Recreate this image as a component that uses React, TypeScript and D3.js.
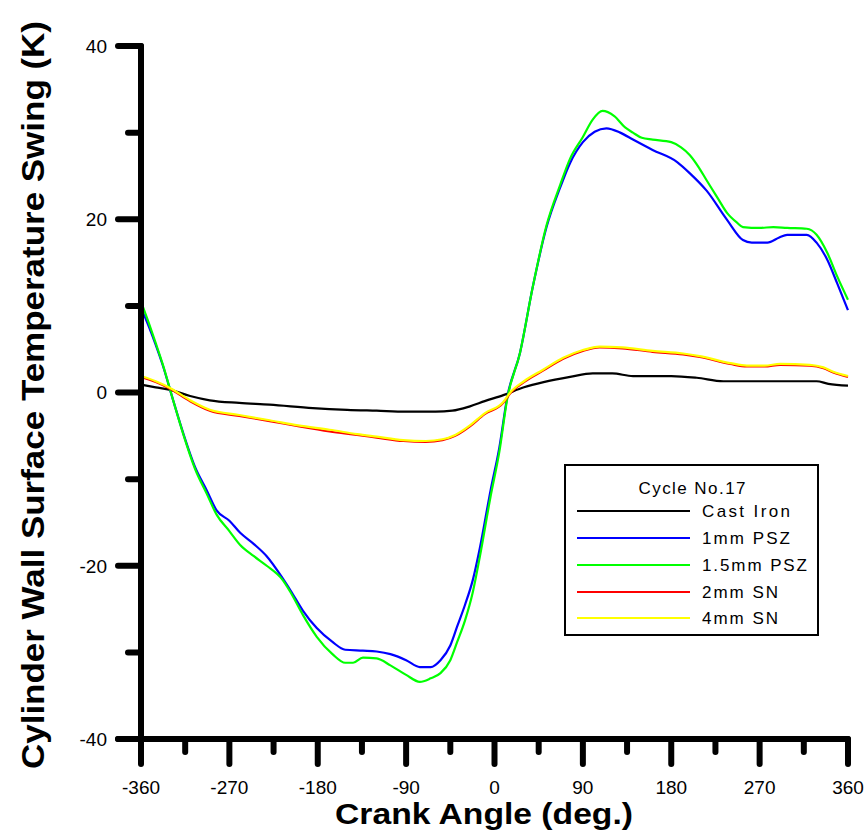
import React from "react";
import * as d3 from "d3";

const xTicks = [-360, -270, -180, -90, 0, 90, 180, 270, 360];
const xMinorTicks = [-315, -225, -135, -45, 45, 135, 225, 315];
const yTicks = [-40, -20, 0, 20, 40];
const yMinorTicks = [-30, -10, 10, 30];

const castIronX = [-360, -345, -330, -310, -290, -260, -229, -185, -150, -120, -90, -60, -43, -25, -10, 9, 30, 50, 77, 100, 120, 141, 180, 206, 233, 270, 300, 328, 340, 360];
const castIronY = [0.9, 0.6, 0.3, -0.4, -0.9, -1.2, -1.4, -1.8, -2.0, -2.1, -2.2, -2.2, -2.1, -1.6, -1.0, -0.3, 0.6, 1.2, 1.8, 2.2, 2.2, 1.9, 1.9, 1.7, 1.3, 1.3, 1.3, 1.3, 1.0, 0.8];

const psz1X = [-360, -352, -345, -338, -327, -317, -305, -293, -283, -270, -259, -245, -232, -216, -208, -195, -181, -165, -152, -134, -120, -106, -90, -76, -65, -55, -45, -38, -30, -22, -15, -4, 5, 13, 26, 39, 53, 67, 77, 90, 102, 114, 128, 141, 161, 186, 199, 216, 237, 253, 262, 278, 290, 298, 318, 328, 339, 349, 360];
const psz1Y = [9.8, 7.6, 5.5, 3.2, -1.0, -4.7, -8.6, -11.3, -13.6, -14.8, -16.2, -17.5, -18.9, -21.4, -22.8, -25.2, -27.2, -28.8, -29.7, -29.8, -29.9, -30.2, -30.9, -31.7, -31.7, -30.9, -29.2, -27.0, -24.5, -21.6, -18.0, -11.3, -6.3, -0.5, 4.6, 12.2, 19.1, 23.7, 26.5, 28.9, 30.1, 30.5, 30.0, 29.2, 28.0, 26.6, 25.3, 23.3, 19.9, 17.6, 17.3, 17.3, 17.9, 18.2, 18.2, 17.3, 15.3, 12.6, 9.5];

const psz15X = [-360, -352, -345, -338, -327, -317, -305, -293, -283, -270, -259, -245, -232, -216, -208, -195, -181, -165, -152, -144, -134, -120, -106, -90, -76, -65, -55, -45, -38, -30, -22, -15, -4, 5, 13, 26, 39, 53, 67, 77, 90, 100, 110, 122, 133, 141, 150, 161, 180, 190, 199, 208, 216, 227, 237, 247, 253, 270, 284, 298, 318, 328, 339, 349, 360];
const psz15Y = [10.5, 8.0, 5.7, 3.3, -1.0, -4.8, -8.8, -11.7, -14.1, -16.0, -17.6, -18.9, -20.0, -21.6, -23.0, -25.7, -28.2, -30.2, -31.2, -31.2, -30.6, -30.7, -31.5, -32.6, -33.4, -33.0, -32.4, -30.9, -28.8, -26.3, -23.0, -19.0, -12.0, -6.8, -0.7, 4.6, 12.2, 19.3, 24.0, 27.0, 29.5, 31.5, 32.5, 31.9, 30.6, 30.0, 29.4, 29.2, 28.9, 28.3, 27.4, 26.0, 24.5, 22.5, 20.7, 19.6, 19.1, 19.0, 19.1, 19.0, 18.9, 18.2, 16.1, 13.4, 10.7];

const sn2X = [-360, -345, -330, -310, -290, -260, -229, -200, -168, -140, -120, -93, -70, -53, -40, -25, -10, 9, 16, 30, 49, 70, 90, 107, 130, 161, 192, 209, 240, 257, 275, 291, 321, 335, 345, 360];
const sn2Y = [1.8, 1.2, 0.4, -1.0, -2.1, -2.7, -3.3, -3.9, -4.5, -4.9, -5.2, -5.6, -5.7, -5.5, -5.0, -3.9, -2.5, -1.2, -0.1, 1.2, 2.5, 3.9, 4.8, 5.2, 5.1, 4.7, 4.4, 4.1, 3.3, 3.0, 3.0, 3.2, 3.1, 2.8, 2.3, 1.8];

const sn4X = [-360, -345, -330, -310, -290, -260, -229, -200, -168, -140, -120, -93, -70, -53, -40, -25, -10, 9, 16, 30, 49, 70, 90, 107, 130, 161, 192, 209, 240, 257, 275, 291, 321, 335, 345, 360];
const sn4Y = [1.9, 1.3, 0.5, -0.9, -2.0, -2.6, -3.2, -3.8, -4.3, -4.8, -5.1, -5.5, -5.6, -5.4, -4.9, -3.8, -2.4, -1.1, 0.0, 1.3, 2.6, 4.0, 4.9, 5.3, 5.2, 4.8, 4.5, 4.2, 3.4, 3.1, 3.1, 3.3, 3.2, 2.9, 2.4, 1.9];

const seriesNames = ["Cast Iron", "1mm PSZ", "1.5mm PSZ", "2mm SN", "4mm SN"];
const seriesColors = ["#000000", "#0000ff", "#00ff00", "#ff0000", "#ffff00"];
const seriesX = [castIronX, psz1X, psz15X, sn2X, sn4X];
const seriesY = [castIronY, psz1Y, psz15Y, sn2Y, sn4Y];
const legendLabelWidths = [88, 88, 105, 76, 76];

export default function App() {
  const x = d3.scaleLinear().domain([-360, 360]).range([141, 848]);
  const y = d3.scaleLinear().domain([-40, 40]).range([739, 46]);
  const line = d3
    .line<[number, number]>()
    .x((d) => x(d[0]))
    .y((d) => y(d[1]))
    .curve(d3.curveMonotoneX);

  const font = "'Liberation Sans', Arial, sans-serif";
  const axisW = 6;

  const legendRows = [511, 538, 565, 592, 618];

  return (
    <svg
      width={866}
      height={832}
      style={{ position: "absolute", left: 0, top: 0, background: "#fff" }}
      fontFamily={font}
    >
      <rect x={0} y={0} width={866} height={832} fill="#fff" />
      {/* data lines */}
      {seriesX.map((xs, i) => {
        const pts: [number, number][] = xs.map((v, j) => [v, seriesY[i][j]]);
        return (
          <path
            key={i}
            d={line(pts) || ""}
            fill="none"
            stroke={seriesColors[i]}
            strokeWidth={2.2}
          />
        );
      })}

      {/* axes */}
      <g stroke="#000" strokeWidth={axisW} strokeLinecap="round">
        <line x1={x(-360)} x2={x(-360)} y1={y(40)} y2={y(-40)} />
        <line x1={118} x2={x(360)} y1={y(-40)} y2={y(-40)} />
        {yTicks.map((t) => (
          <line key={"yt" + t} x1={118} x2={x(-360)} y1={y(t)} y2={y(t)} />
        ))}
        {yMinorTicks.map((t) => (
          <line key={"ym" + t} x1={128} x2={x(-360)} y1={y(t)} y2={y(t)} />
        ))}
        {xTicks.map((t) => (
          <line key={"xt" + t} x1={x(t)} x2={x(t)} y1={y(-40)} y2={764} />
        ))}
        {xMinorTicks.map((t) => (
          <line key={"xm" + t} x1={x(t)} x2={x(t)} y1={y(-40)} y2={752} />
        ))}
      </g>

      {/* tick labels */}
      {yTicks.map((t) => (
        <text key={"yl" + t} x={107} y={y(t)} dy="0.36em" textAnchor="end" fontSize={19} fill="#000">
          {t}
        </text>
      ))}
      {xTicks.map((t) => (
        <text key={"xl" + t} x={x(t)} y={794} textAnchor="middle" fontSize={19} fill="#000">
          {t}
        </text>
      ))}

      {/* axis titles */}
      <text
        x={484}
        y={824}
        textAnchor="middle"
        fontSize={29}
        fontWeight="bold"
        textLength={298}
        lengthAdjust="spacingAndGlyphs"
        fill="#000"
      >
        Crank Angle (deg.)
      </text>
      <text
        transform="translate(44,395) rotate(-90)"
        textAnchor="middle"
        fontSize={32}
        fontWeight="bold"
        textLength={748}
        lengthAdjust="spacingAndGlyphs"
        fill="#000"
      >
        Cylinder Wall Surface Temperature Swing (K)
      </text>

      {/* legend */}
      <rect x={565} y={465} width={253} height={170} fill="#fff" stroke="#000" strokeWidth={2} />
      <text x={692} y={488} dy="0.36em" textAnchor="middle" fontSize={17} textLength={107} lengthAdjust="spacing" fill="#000">
        Cycle No.17
      </text>
      {seriesNames.map((name, i) => (
        <g key={name}>
          <line x1={577} x2={690} y1={legendRows[i]} y2={legendRows[i]} stroke={seriesColors[i]} strokeWidth={2.2} />
          <text
            x={702}
            y={legendRows[i]}
            dy="0.36em"
            fontSize={17}
            textLength={legendLabelWidths[i]}
            lengthAdjust="spacing"
            fill="#000"
          >
            {name}
          </text>
        </g>
      ))}
    </svg>
  );
}
